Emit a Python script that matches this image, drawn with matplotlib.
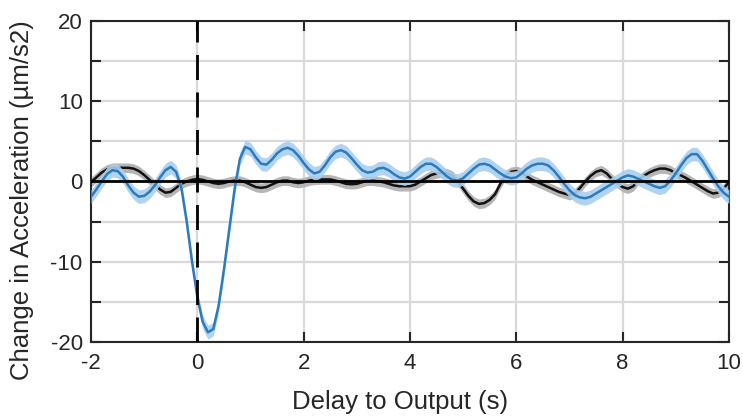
import numpy as np
import matplotlib
matplotlib.use("Agg")
import matplotlib.pyplot as plt

plt.rcParams['font.family'] = ['Liberation Sans', 'DejaVu Sans']

# delay axis, 0.1 s steps
delay = np.round(np.arange(-2.0, 10.0001, 0.1), 1)

# mean change in acceleration
blue_mean = [-1.9, -1.0, 0.0, 0.9, 1.4, 1.3, 0.6, -0.5, -1.4, -1.9,
             -1.8, -1.3, -0.5, 0.5, 1.4, 1.8, 1.2, -0.8, -5.0, -10.0,
             -14.4, -17.5, -18.8, -18.4, -15.5, -11.0, -6.0, -1.0, 2.8, 4.3,
             4.0, 3.0, 2.2, 2.1, 2.7, 3.5, 4.0, 4.2, 3.9, 3.2,
             2.3, 1.5, 1.0, 1.2, 2.0, 3.0, 3.7, 3.9, 3.6, 2.9,
             2.1, 1.4, 1.1, 1.2, 1.6, 1.7, 1.4, 0.9, 0.5, 0.35,
             0.6, 1.2, 1.8, 2.2, 2.2, 1.8, 1.2, 0.6, 0.2, 0.1,
             0.4, 1.0, 1.6, 2.1, 2.2, 2.0, 1.5, 1.0, 0.6, 0.4,
             0.5, 1.0, 1.6, 2.0, 2.2, 2.2, 2.0, 1.4, 0.6, -0.3,
             -1.1, -1.7, -2.0, -2.1, -1.9, -1.5, -1.1, -0.7, -0.3, 0.1,
             0.5, 0.75, 0.6, 0.3, 0.0, -0.3, -0.6, -0.8, -0.6, 0.1,
             1.0, 2.0, 2.9, 3.4, 3.4, 2.6, 1.5, 0.4, -0.6, -1.4,
             -1.9]
black_mean = [-0.1, 0.5, 1.1, 1.5, 1.7, 1.7, 1.7, 1.7, 1.6, 1.3,
              0.8, 0.2, -0.4, -1.0, -1.4, -1.3, -0.8, -0.3, 0.0, 0.2,
              0.3, 0.2, 0.0, -0.2, -0.3, -0.2, 0.0, 0.1, 0.1, -0.1,
              -0.4, -0.7, -0.8, -0.7, -0.4, -0.1, 0.1, 0.1, -0.1, -0.2,
              -0.1, 0.1, 0.2, 0.25, 0.25, 0.25, 0.1, -0.1, -0.3, -0.35,
              -0.3, -0.1, 0.1, 0.1, 0.0, -0.1, -0.3, -0.5, -0.6, -0.6,
              -0.6, -0.4, 0.0, 0.4, 0.8, 1.0, 1.1, 1.0, 0.7, 0.0,
              -0.9, -1.8, -2.5, -2.8, -2.7, -2.3, -1.6, -0.3, 0.8, 1.2,
              1.3, 1.1, 0.6, 0.2, -0.1, -0.4, -0.7, -1.0, -1.3, -1.5,
              -1.7, -1.5, -0.8, 0.0, 0.7, 1.2, 1.4, 1.0, 0.3, -0.2,
              -0.7, -0.9, -0.6, 0.2, 0.7, 1.1, 1.4, 1.6, 1.6, 1.4,
              1.0, 0.75, 0.4, 0.0, -0.4, -0.8, -1.2, -1.5, -1.4, -0.9,
              -0.1]
blue_sem = 0.85
black_sem = 0.6

blue_line = "#2b7bbf"
blue_fill = "#a9cfee"
gray_fill = "#b5b5b5"
axc = "#262626"

bm = np.array(blue_mean)
km = np.array(black_mean)

fig = plt.figure(figsize=(7.43, 4.19), dpi=100)
ax = fig.add_axes([0.1225, 0.184, 0.8585, 0.766])

ax.fill_between(delay, km - black_sem, km + black_sem, color=gray_fill, lw=0, zorder=2)
ax.plot(delay, km, color="#111111", lw=1.8, zorder=3)
ax.fill_between(delay, bm - blue_sem, bm + blue_sem, color=blue_fill, lw=0, alpha=0.9, zorder=4)
ax.plot(delay, bm, color=blue_line, lw=1.8, zorder=5)

ax.axhline(0, color="black", lw=2, zorder=6)
ax.axvline(0, color="black", lw=2, ls=(0, (9, 4.5)), zorder=6)

ax.set_xlim(-2, 10)
ax.set_ylim(-20, 20)
ax.set_xticks(np.arange(-2, 11, 2))
ax.set_xticklabels(["-2", "0", "2", "4", "6", "8", "10"])
yt = np.arange(-20, 21, 5)
ax.set_yticks(yt)
ax.set_yticklabels([str(v) if v % 10 == 0 else "" for v in yt])
ax.grid(True, color="#d9d9d9", lw=1.6, zorder=0)
ax.set_axisbelow(True)

ax.tick_params(direction="in", length=7, width=1.5, color=axc, labelcolor=axc,
               labelsize=16, top=True, right=True)
ax.tick_params(axis="x", pad=8)
ax.tick_params(axis="y", pad=6)
for s in ax.spines.values():
    s.set_color(axc)
    s.set_linewidth(1.5)

ax.set_xlabel("Delay to Output (s)", fontsize=18.5, color=axc)
ax.set_ylabel("Change in Acceleration (µm/s2)", fontsize=18.5, color=axc)
ax.xaxis.set_label_coords(0.484, -0.15)
ax.yaxis.set_label_coords(-0.089, 0.442)

fig.savefig("out.png", dpi=100)
